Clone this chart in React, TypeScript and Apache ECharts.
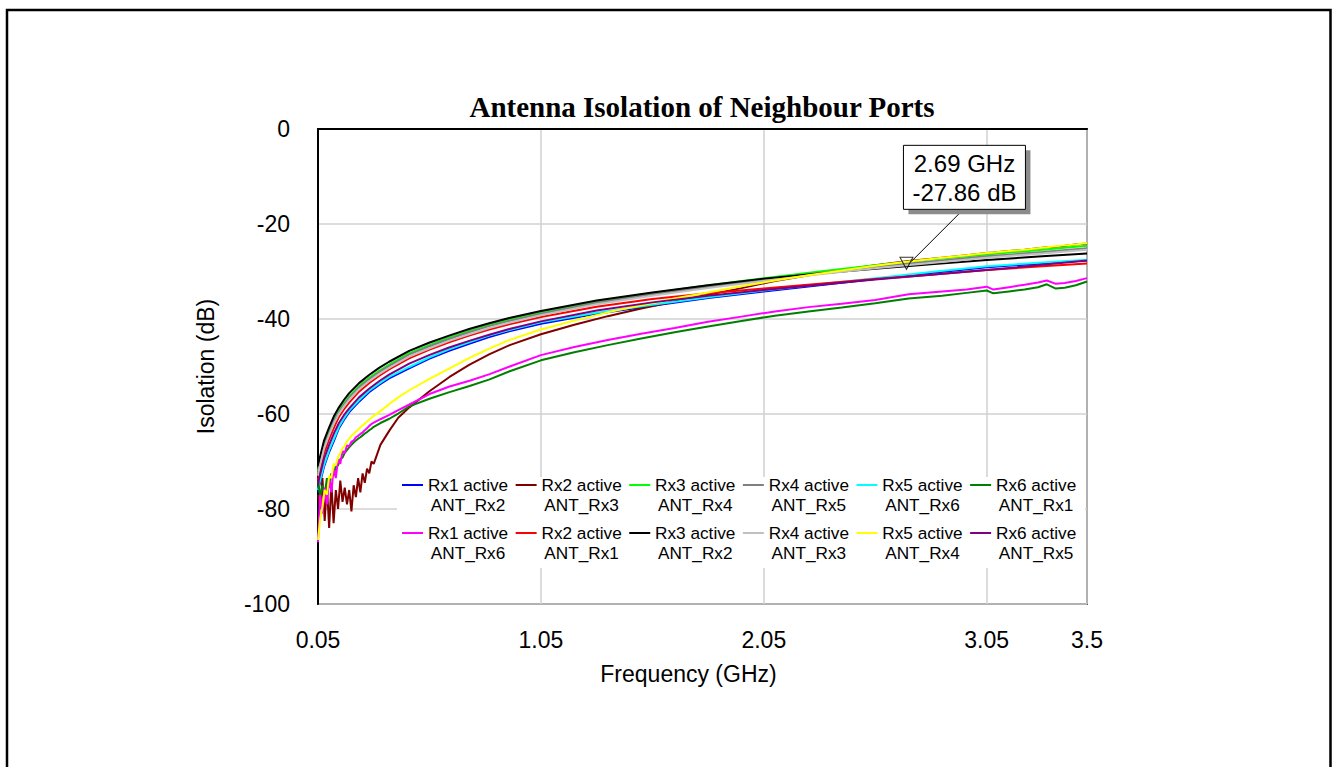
import React, { useEffect, useRef } from "react";
import * as echarts from "echarts";

const FONT = 'Arial, "Liberation Sans", sans-serif';
const TITLE_TEXT = "Antenna Isolation of Neighbour Ports";
const X_NAME = "Frequency (GHz)";
const Y_NAME = "Isolation (dB)";

const SERIES_NAMES = [
  "Rx1 active\nANT_Rx2",
  "Rx2 active\nANT_Rx3",
  "Rx3 active\nANT_Rx4",
  "Rx4 active\nANT_Rx5",
  "Rx5 active\nANT_Rx6",
  "Rx6 active\nANT_Rx1",
  "Rx1 active\nANT_Rx6",
  "Rx2 active\nANT_Rx1",
  "Rx3 active\nANT_Rx2",
  "Rx4 active\nANT_Rx3",
  "Rx5 active\nANT_Rx4",
  "Rx6 active\nANT_Rx5",
];
const SERIES_COLORS = [
  "#0000ff", "#800000", "#00ff00", "#808080", "#00ffff", "#008000",
  "#ff00ff", "#ff0000", "#000000", "#c0c0c0", "#ffff00", "#800080",
];

// frequency grids (GHz)
const FREQ_SMOOTH = [
  0.05, 0.055, 0.077, 0.1, 0.122, 0.144, 0.167, 0.19, 0.234, 0.279, 0.324, 0.369,
  0.459, 0.548, 0.638, 0.728, 0.818, 0.908, 1.05, 1.3, 1.55, 1.8, 2.05, 2.3, 2.55,
  2.8, 3.05, 3.3, 3.5,
];
const FREQ_NOISY = [
  0.05, 0.06, 0.07, 0.08, 0.09, 0.1, 0.11, 0.12, 0.13, 0.14, 0.15, 0.16, 0.17, 0.18,
  0.19, 0.2, 0.21, 0.22, 0.23, 0.24, 0.25, 0.26, 0.27, 0.28, 0.29, 0.3,
  0.33, 0.37, 0.41, 0.46, 0.55, 0.64, 0.73, 0.82, 0.91, 1.05,
  1.2, 1.35, 1.5, 1.65, 1.8, 1.95, 2.1, 2.25, 2.4, 2.55,
  2.7, 2.85, 2.96, 3.05, 3.08, 3.15, 3.22, 3.28, 3.32, 3.36,
  3.4, 3.45, 3.5,
];

// isolation values (dB)
const RX1_ANT_RX2 = [
  -76.5, -75.2, -71.1, -68.0, -65.6, -63.0, -61.2, -59.6, -57.4, -55.4, -53.9, -52.5,
  -50.4, -48.4, -46.7, -45.2, -43.8, -42.6, -41.0, -38.9, -37.2, -35.6, -34.2, -32.9,
  -31.6, -30.3, -29.1, -28.3, -27.7,
];
const RX2_ANT_RX3 = [
  -77, -80, -73.5, -82.5, -75, -84, -74.5, -83, -76, -80, -74, -78.5, -75.5, -79, -76,
  -80.5, -75, -77.5, -73.5, -76.5, -72.5, -74.5, -71.5, -72.5, -70, -70.5,
  -66.5, -63.5, -60.8, -58.6, -55.2, -52.2, -49.6, -47.4, -45.5, -43.2,
  -41.2, -39.4, -37.8, -36.3, -34.9, -33.5, -32.0, -30.8, -29.7, -28.7,
  -27.8, -27.1, -26.6, -26.1, -26.0, -25.7, -25.4, -25.1, -24.9, -24.8,
  -24.6, -24.3, -24.1,
];
const RX3_ANT_RX4 = [
  -72.0, -70.8, -66.5, -63.6, -61.1, -59.3, -57.7, -56.3, -54.1, -52.4, -50.9, -49.6,
  -47.2, -45.5, -43.9, -42.5, -41.2, -40.1, -38.6, -36.3, -34.5, -32.9, -31.4, -30.0,
  -28.7, -27.5, -26.4, -25.4, -24.6,
];
const RX4_ANT_RX5 = [
  -72.5, -71.2, -66.8, -64.0, -61.4, -59.6, -58.0, -56.6, -54.4, -52.7, -51.2, -49.9,
  -47.5, -45.8, -44.2, -42.8, -41.5, -40.4, -38.9, -36.6, -34.8, -33.2, -31.7, -30.3,
  -29.0, -27.9, -26.8, -25.9, -25.1,
];
const RX5_ANT_RX6 = [
  -76.0, -74.8, -70.7, -67.6, -65.2, -62.7, -60.9, -59.3, -57.1, -55.1, -53.6, -52.2,
  -50.1, -48.1, -46.4, -44.9, -43.5, -42.3, -40.7, -38.7, -37.0, -35.4, -34.0, -32.7,
  -31.4, -30.1, -28.9, -28.1, -27.5,
];
const RX6_ANT_RX1 = [
  -74, -77.5, -75, -77, -73.5, -75.5, -72.5, -73, -71, -70.8, -69.5, -69.2, -68.2,
  -67.6, -67.0, -66.5, -66.0, -65.6, -65.2, -64.9, -64.5, -64.1, -63.8, -63.4, -63.1, -62.7,
  -61.9, -61.0, -59.9, -58.4, -56.8, -55.4, -54.1, -52.7, -51.0, -48.7,
  -47.0, -45.5, -44.1, -42.8, -41.6, -40.4, -39.3, -38.4, -37.6, -36.7,
  -35.7, -35.1, -34.5, -34.0, -34.6, -34.2, -33.8, -33.3, -32.7, -33.6,
  -33.4, -32.9, -32.1,
];
const RX1_ANT_RX6 = [
  -87, -77, -81, -75.5, -79, -73.5, -76.5, -71.5, -73.5, -69.5, -70.5, -67.8, -68.2,
  -66.6, -66.8, -65.8, -65.6, -64.9, -64.6, -64.2, -63.9, -63.4, -63.0, -62.5, -62.1, -61.8,
  -61.1, -60.2, -59.2, -58.0, -55.8, -54.2, -53.0, -51.6, -50.0, -47.6,
  -45.9, -44.4, -43.1, -41.9, -40.6, -39.5, -38.4, -37.5, -36.8, -36.0,
  -34.8, -34.2, -33.8, -33.2, -33.8, -33.3, -32.8, -32.3, -31.9, -32.6,
  -32.4, -32.0, -31.4,
];
const RX2_ANT_RX1 = [
  -74.0, -72.5, -68.3, -65.3, -62.8, -60.6, -59.0, -57.6, -55.3, -53.5, -52.0, -50.6,
  -48.3, -46.5, -44.9, -43.5, -42.2, -41.1, -39.6, -37.4, -35.8, -34.6, -33.6, -32.6,
  -31.6, -30.7, -29.7, -28.9, -28.3,
];
const RX3_ANT_RX2 = [
  -71.0, -69.8, -65.6, -62.8, -60.4, -58.6, -57.0, -55.6, -53.5, -51.8, -50.3, -49.0,
  -46.7, -45.0, -43.5, -42.1, -40.9, -39.8, -38.3, -36.1, -34.4, -32.9, -31.5, -30.4,
  -29.4, -28.5, -27.6, -26.8, -26.2,
];
const RX4_ANT_RX3 = [
  -73.0, -71.6, -67.3, -64.4, -61.9, -60.0, -58.4, -57.0, -54.8, -53.1, -51.6, -50.3,
  -47.9, -46.2, -44.6, -43.2, -41.9, -40.8, -39.2, -36.9, -35.1, -33.5, -32.0, -30.6,
  -29.3, -28.2, -27.1, -26.2, -25.4,
];
const RX5_ANT_RX4 = [
  -86.5, -82, -79.5, -76, -77, -73, -73.5, -70.5, -70.8, -69.0, -68.3, -67.2, -66.7,
  -65.8, -65.2, -64.6, -64.2, -63.7, -63.3, -62.8, -62.4, -62.0, -61.6, -61.2, -60.8, -60.4,
  -59.4, -57.9, -56.5, -55.0, -52.6, -50.4, -48.2, -46.2, -44.4, -42.2,
  -40.3, -38.6, -37.1, -35.7, -34.4, -33.1, -31.9, -30.8, -29.8, -28.8,
  -27.9, -27.1, -26.6, -26.1, -26.0, -25.7, -25.4, -25.1, -24.9, -24.7,
  -24.5, -24.3, -24.0,
];
const RX6_ANT_RX5 = [
  -75.0, -73.6, -69.4, -66.5, -64.0, -61.9, -60.2, -58.8, -56.5, -54.7, -53.1, -51.7,
  -49.4, -47.6, -46.0, -44.6, -43.3, -42.1, -40.5, -38.2, -36.5, -35.1, -33.9, -32.8,
  -31.7, -30.7, -29.7, -28.6, -27.7,
];

const SERIES_VALUES = [
  RX1_ANT_RX2, RX2_ANT_RX3, RX3_ANT_RX4, RX4_ANT_RX5, RX5_ANT_RX6, RX6_ANT_RX1,
  RX1_ANT_RX6, RX2_ANT_RX1, RX3_ANT_RX2, RX4_ANT_RX3, RX5_ANT_RX4, RX6_ANT_RX5,
];
const SERIES_FREQS = [
  FREQ_SMOOTH, FREQ_NOISY, FREQ_SMOOTH, FREQ_SMOOTH, FREQ_SMOOTH, FREQ_NOISY,
  FREQ_NOISY, FREQ_SMOOTH, FREQ_SMOOTH, FREQ_SMOOTH, FREQ_NOISY, FREQ_SMOOTH,
];

const MARKER_FREQ = 2.69;
const MARKER_DB = -27.86;
const MARKER_LINES = ["2.69 GHz", "-27.86 dB"];

const legendRow = (names: string[], top: number) => ({
  data: names,
  left: 402,
  top,
  orient: "horizontal",
  padding: 0,
  itemGap: 7.5,
  itemWidth: 21,
  itemHeight: 2,
  icon: "rect",
  selectedMode: false,
  formatter: (name: string) =>
    "{e| }\n" +
    name
      .split("\n")
      .map((s) => `{t|${s}}`)
      .join("\n"),
  textStyle: {
    fontFamily: FONT,
    fontSize: 17.2,
    color: "#000",
    lineHeight: 19.5,
    rich: {
      e: { fontSize: 17.2, lineHeight: 19.5, width: 80 },
      t: {
        width: 80,
        align: "center",
        fontFamily: FONT,
        fontSize: 17.2,
        lineHeight: 19.5,
        color: "#000",
      },
    },
  },
});

export default function App() {
  const ref = useRef<HTMLDivElement>(null);

  useEffect(() => {
    if (!ref.current) return;
    const chart = echarts.init(ref.current, null, { renderer: "svg" });

    const lineSeries = SERIES_NAMES.map((name, i) => ({
      name,
      type: "line",
      symbol: "none",
      data: SERIES_FREQS[i].map((f, j) => [f, SERIES_VALUES[i][j]]),
      lineStyle: { color: SERIES_COLORS[i], width: 2 },
      itemStyle: { color: SERIES_COLORS[i] },
      emphasis: { disabled: true },
      z: 3,
    }));

    chart.setOption({
      animation: false,
      backgroundColor: "#ffffff",
      grid: {
        left: 318,
        top: 129,
        width: 769,
        height: 475,
        show: true,
        borderColor: "#555555",
        borderWidth: 2,
        backgroundColor: "transparent",
      },
      legend: [
        legendRow(SERIES_NAMES.slice(0, 6), 455.75),
        legendRow(SERIES_NAMES.slice(6, 12), 503.75),
      ],
      xAxis: {
        type: "value",
        min: 0.05,
        max: 3.5,
        interval: 1,
        name: X_NAME,
        nameLocation: "middle",
        nameGap: 58,
        nameTextStyle: {
          fontFamily: FONT,
          fontSize: 23,
          color: "#000",
          padding: [0, 28, 0, 0],
        },
        axisLine: { show: true, lineStyle: { color: "#000", width: 2 } },
        axisTick: { show: false },
        axisLabel: {
          fontFamily: FONT,
          fontSize: 23,
          color: "#000",
          margin: 24,
          formatter: (v: number) => String(Math.round(v * 100) / 100),
        },
        splitLine: { show: true, lineStyle: { color: "#d0d0d0", width: 1.5 } },
      },
      yAxis: {
        type: "value",
        min: -100,
        max: 0,
        interval: 20,
        name: Y_NAME,
        nameLocation: "middle",
        nameGap: 101,
        nameRotate: 90,
        nameTextStyle: { fontFamily: FONT, fontSize: 23, color: "#000" },
        axisLine: { show: true, lineStyle: { color: "#000", width: 2 } },
        axisTick: { show: false },
        axisLabel: {
          fontFamily: FONT,
          fontSize: 23,
          color: "#000",
          margin: 28,
          padding: [7, 0, 0, 0],
        },
        splitLine: { show: true, lineStyle: { color: "#d0d0d0", width: 1.5 } },
      },
      series: [
        ...lineSeries,
        {
          name: "marker",
          type: "scatter",
          data: [[MARKER_FREQ, MARKER_DB]],
          symbol: "triangle",
          symbolRotate: 180,
          symbolSize: [13, 12],
          symbolOffset: [0, 2],
          itemStyle: { color: "rgba(0,0,0,0)", borderColor: "#000", borderWidth: 1 },
          emphasis: { disabled: true },
          z: 10,
        },
      ],
    });

    const p = chart.convertToPixel({ gridIndex: 0 }, [MARKER_FREQ, MARKER_DB]) as number[];
    const px = p[0];
    const py = p[1];
    const boxX = px - 3;
    const boxY = py - 116;

    chart.setOption({
      graphic: [
        {
          type: "rect",
          shape: { x: 7, y: 10, width: 1323.5, height: 800 },
          style: { fill: "none", stroke: "#000", lineWidth: 2.5 },
          silent: true,
          z: 100,
        },
        {
          type: "rect",
          shape: { x: 397, y: 477, width: 688, height: 91 },
          style: { fill: "#fff", stroke: "none" },
          silent: true,
          z: 1,
        },
        {
          type: "text",
          x: 702,
          y: 107,
          style: {
            text: TITLE_TEXT,
            align: "center",
            verticalAlign: "middle",
            font: 'bold 29px "Times New Roman", "Liberation Serif", serif',
            fill: "#000",
          },
          z: 100,
        },
        {
          type: "line",
          shape: { x1: px + 53, y1: py - 48, x2: px + 5, y2: py },
          style: { stroke: "#000", lineWidth: 1 },
          z: 100,
        },
        {
          type: "rect",
          shape: { x: boxX + 5, y: boxY + 5, width: 122, height: 64 },
          style: { fill: "#8c8c8c", stroke: "none" },
          z: 100,
        },
        {
          type: "rect",
          shape: { x: boxX, y: boxY, width: 122, height: 64 },
          style: { fill: "#fff", stroke: "#000", lineWidth: 1 },
          z: 101,
        },
        {
          type: "text",
          x: boxX + 61,
          y: boxY + 18,
          style: {
            text: MARKER_LINES[0],
            align: "center",
            verticalAlign: "middle",
            font: `24px ${FONT}`,
            fill: "#000",
          },
          z: 102,
        },
        {
          type: "text",
          x: boxX + 61,
          y: boxY + 47,
          style: {
            text: MARKER_LINES[1],
            align: "center",
            verticalAlign: "middle",
            font: `24px ${FONT}`,
            fill: "#000",
          },
          z: 102,
        },
      ],
    });

    return () => chart.dispose();
  }, []);

  return (
    <div
      ref={ref}
      style={{ position: "absolute", left: 0, top: 0, width: 1334, height: 767 }}
    />
  );
}
